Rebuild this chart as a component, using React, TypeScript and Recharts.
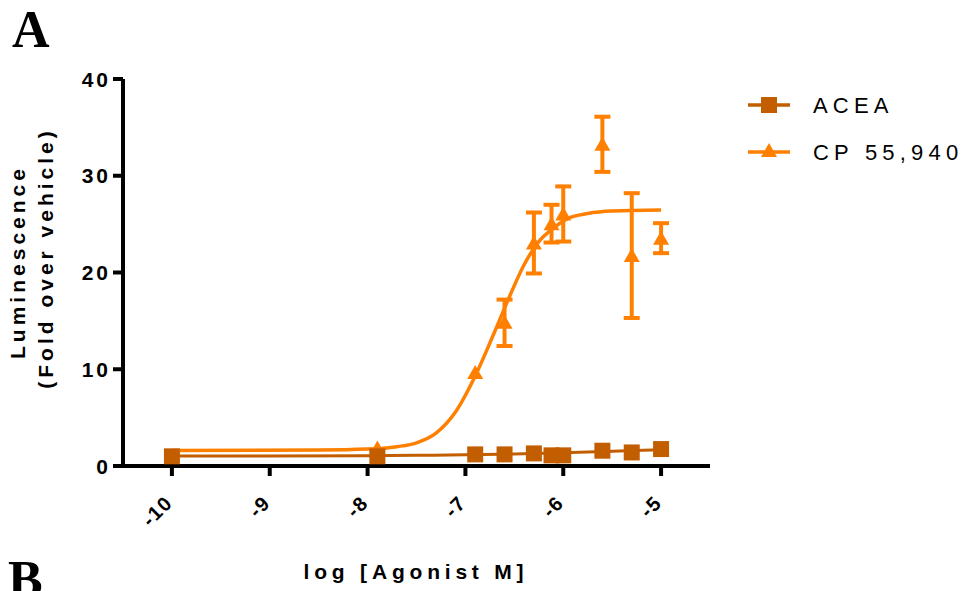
import React from 'react';
import { ComposedChart, Line, Scatter, XAxis, YAxis, ErrorBar, Label } from 'recharts';

// axis ticks
const xTicks = [-10, -9, -8, -7, -6, -5];
const yTicks = [0, 10, 20, 30, 40];

// ACEA measured points (log M, fold over vehicle)
const aceaDoses = [-10, -7.9, -6.9, -6.6, -6.3, -6.12, -6.0, -5.6, -5.3, -5.0];
const aceaMeans = [1.0, 1.0, 1.2, 1.2, 1.3, 1.1, 1.1, 1.58, 1.4, 1.75];

// ACEA fitted curve
const aceaFitX = [-10, -9, -8, -7.5, -7, -6.5, -6, -5.5, -5];
const aceaFitY = [1.03, 1.04, 1.07, 1.1, 1.15, 1.25, 1.37, 1.52, 1.68];

// CP 55,940 measured points with SEM (down, up)
const cpDoses = [-7.9, -6.9, -6.6, -6.3, -6.12, -6.0, -5.6, -5.3, -5.0];
const cpMeans = [1.8, 9.6, 14.8, 23.0, 25.0, 26.0, 33.2, 21.7, 23.5];
const cpErrDown = [null, null, 2.4, 3.1, 1.9, 2.8, 2.8, 6.4, 1.5];
const cpErrUp = [null, null, 2.4, 3.2, 2.0, 2.9, 2.9, 6.5, 1.6];

// CP 55,940 fitted curve
const cpFitX = [-10, -8.5, -8, -7.7, -7.5, -7.3, -7.1, -6.9, -6.7, -6.55, -6.4, -6.25, -6.1, -5.95, -5.75, -5.5, -5.0];
const cpFitY = [1.6, 1.65, 1.75, 2.0, 2.4, 3.4, 5.6, 9.3, 13.9, 17.5, 20.8, 23.2, 24.6, 25.6, 26.1, 26.35, 26.45];

const ACEA_COLOR = '#C25E00';
const CP_COLOR = '#FF8000';
const SANS = '"Liberation Sans", Arial, sans-serif';

const aceaPoints = aceaDoses.map((x, i) => ({ x, y: aceaMeans[i] }));
const aceaFit = aceaFitX.map((x, i) => ({ x, y: aceaFitY[i] }));
const cpAll = cpDoses.map((x, i) => ({
  x,
  y: cpMeans[i],
  err: cpErrDown[i] == null ? null : [cpErrDown[i], cpErrUp[i]],
}));
const cpWithErr = cpAll.filter((d) => d.err != null);
const cpNoErr = cpAll.filter((d) => d.err == null);
const cpFit = cpFitX.map((x, i) => ({ x, y: cpFitY[i] }));

const legendItems = [
  { name: 'ACEA', color: ACEA_COLOR, shape: 'square' },
  { name: 'CP 55,940', color: CP_COLOR, shape: 'triangle' },
];

const Square = ({ cx, cy, fill }: any) => (
  <rect x={cx - 8} y={cy - 8} width={16} height={16} fill={fill} />
);

const Triangle = ({ cx, cy, fill }: any) => (
  <polygon points={`${cx},${cy - 8} ${cx - 8},${cy + 6} ${cx + 8},${cy + 6}`} fill={fill} />
);

const XTick = ({ x, y, payload }: any) => {
  const px = x + 2;
  const py = y + 26;
  return (
    <text
      x={px}
      y={py}
      transform={`rotate(-45 ${px} ${py})`}
      textAnchor="end"
      fontFamily={SANS}
      fontWeight="bold"
      fontSize={20}
      letterSpacing={1.5}
      fill="#000"
    >
      {payload.value}
    </text>
  );
};

const YTick = ({ x, y, payload }: any) => (
  <text
    x={x}
    y={y}
    dy="0.36em"
    textAnchor="end"
    fontFamily={SANS}
    fontWeight="bold"
    fontSize={21}
    letterSpacing={3}
    fill="#000"
  >
    {payload.value}
  </text>
);

const titleStyle = {
  fontFamily: SANS,
  fontWeight: 'bold' as const,
  fontSize: 21,
  letterSpacing: 4,
  fill: '#000',
};

const YTitle = () => (
  <g>
    <text transform="translate(25,262) rotate(-90)" textAnchor="middle" {...titleStyle}>
      Luminescence
    </text>
    <text transform="translate(53,258) rotate(-90)" textAnchor="middle" {...titleStyle}>
      (Fold over vehicle)
    </text>
  </g>
);

const XTitle = () => (
  <text x={416} y={579} textAnchor="middle" {...titleStyle} letterSpacing={4.8}>
    log [Agonist M]
  </text>
);

export default function App() {
  return (
    <div style={{ position: 'absolute', left: 0, top: 0, width: 969, height: 591, background: '#fff', overflow: 'hidden' }}>
      <ComposedChart width={969} height={591} margin={{ top: 79, right: 259, bottom: 65, left: 63 }}>
        <XAxis
          type="number"
          dataKey="x"
          domain={[-10.5, -4.5]}
          ticks={xTicks}
          interval={0}
          height={60}
          tickSize={10}
          axisLine={{ stroke: '#000', strokeWidth: 4 }}
          tickLine={{ stroke: '#000', strokeWidth: 4 }}
          tick={XTick}
        >
          <Label content={XTitle} />
        </XAxis>
        <YAxis
          type="number"
          domain={[0, 40]}
          ticks={yTicks}
          interval={0}
          width={60}
          tickSize={10}
          axisLine={{ stroke: '#000', strokeWidth: 4 }}
          tickLine={{ stroke: '#000', strokeWidth: 4 }}
          tick={YTick}
        >
          <Label content={YTitle} />
        </YAxis>
        <Line
          data={cpFit}
          dataKey="y"
          type="monotone"
          stroke={CP_COLOR}
          strokeWidth={3.5}
          dot={false}
          activeDot={false}
          isAnimationActive={false}
        />
        <Scatter data={cpWithErr} dataKey="y" fill={CP_COLOR} shape={Triangle} isAnimationActive={false}>
          <ErrorBar dataKey="err" direction="y" width={8} stroke={CP_COLOR} strokeWidth={4} isAnimationActive={false} />
        </Scatter>
        <Scatter data={cpNoErr} dataKey="y" fill={CP_COLOR} shape={Triangle} isAnimationActive={false} />
        <Line
          data={aceaFit}
          dataKey="y"
          type="monotone"
          stroke={ACEA_COLOR}
          strokeWidth={3}
          dot={false}
          activeDot={false}
          isAnimationActive={false}
        />
        <Scatter data={aceaPoints} dataKey="y" fill={ACEA_COLOR} shape={Square} isAnimationActive={false} />
      </ComposedChart>

      <svg width={969} height={591} style={{ position: 'absolute', left: 0, top: 0, pointerEvents: 'none' }}>
        <text x={12} y={47} fontFamily='"Liberation Serif", "Times New Roman", serif' fontWeight="bold" fontSize={52} fill="#000">
          A
        </text>
        <text x={8} y={597} fontFamily='"Liberation Serif", "Times New Roman", serif' fontWeight="bold" fontSize={52} fill="#000">
          B
        </text>
        {legendItems.map((item, i) => {
          const cy = 105 + i * 47;
          return (
            <g key={item.name}>
              <line x1={748} x2={790} y1={cy} y2={cy} stroke={item.color} strokeWidth={3.5} />
              {item.shape === 'square' ? (
                <Square cx={769} cy={cy} fill={item.color} />
              ) : (
                <Triangle cx={769} cy={cy - 1} fill={item.color} />
              )}
              <text
                x={813}
                y={cy}
                dy="0.36em"
                fontFamily={SANS}
                fontSize={22}
                letterSpacing={5.2}
                fill="#000"
              >
                {item.name}
              </text>
            </g>
          );
        })}
      </svg>
    </div>
  );
}
